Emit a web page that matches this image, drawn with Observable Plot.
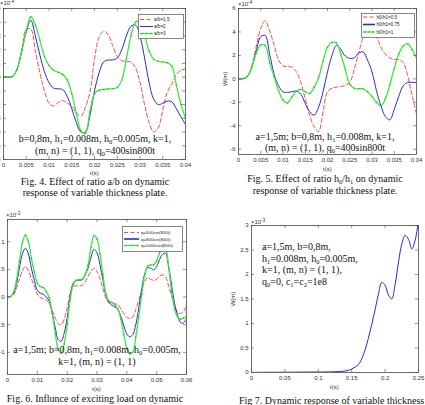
<!DOCTYPE html>
<html>
<head>
<meta charset="utf-8">
<script src="https://cdn.jsdelivr.net/npm/d3@7"></script>
<script src="https://cdn.jsdelivr.net/npm/@observablehq/plot@0.6"></script>
<style>
  body { margin: 0; background: #fff; }
  #page { position: relative; width: 425px; height: 405px; overflow: hidden; background: #fff; }
  .serif { position: absolute; font-family: "Liberation Serif", "Times New Roman", serif; font-size: 10px; color: #111; white-space: nowrap; }
  .center { text-align: center; }
  .small { position: absolute; font-family: "Liberation Sans", Arial, sans-serif; font-size: 6px; color: #333; white-space: nowrap; line-height: 1; }
  sub { font-size: 0.65em; vertical-align: -0.25em; line-height: 0; }
  sup { font-size: 0.75em; vertical-align: 0.35em; line-height: 0; }
</style>
</head>
<body>
<div id="page"></div>
<script>
// ---------- Fig. 4: effect of a/b (W in 1e-4 m, t in ms) ----------
const tAB = [0,1,2,3,4,5,6,7,8,9,10,11,12,13,14,15,16,17,18,19,20,21,22,23,24,25,26,27,28,29,30,31,32,33,34,35,36,37,38,39,40];
const ab15 = [0,0,0.05,0.6,1.9,3.5,3.5,1.9,0.3,-1.0,-1.9,-2.1,-1.85,-1.7,-1.9,-2.1,-2.6,-2.85,-2.2,-1.1,1.3,2.9,3.35,3.1,2.3,1.5,1.2,1.15,1.1,0.7,-0.4,-2.0,-3.3,-4.0,-3.7,-2.4,-1.1,-0.5,0.2,0.5,0.6];
const ab2  = [0,0,0.05,0.6,1.9,3.3,4.15,3.0,1.6,0.4,-0.4,-0.8,-0.85,-0.9,-1.4,-2.3,-3.3,-4.0,-4.0,-2.8,-1.0,0.3,1.1,1.25,1.25,1.4,2.0,3.0,3.7,3.8,3.0,1.4,-0.4,-1.6,-2.0,-1.9,-1.75,-1.8,-2.3,-2.9,-3.45];
const ab3  = [0,0,0.05,0.6,1.9,3.4,4.4,3.8,2.7,1.5,0.85,0.5,0.35,0.2,-0.2,-1.2,-2.6,-3.9,-4.1,-2.5,-1.2,-0.95,-0.9,-0.85,-0.85,-0.75,-0.2,1.3,3.0,4.0,4.1,3.1,1.9,1.3,1.15,1.1,1.05,0.8,-0.6,-2.0,-3.0];
const abLabels = ["a/b=1,5", "a/b=2", "a/b=3"];

// ---------- Fig. 5: effect of h0/h1 (W in 1e-4 m, t in ms) ----------
const tH = [0,1,2,3,4,5,6,7,8,9,10,11,12,13,14,15,16,17,18,19,20,21,22,23,24,25,26,27,28,29,30,31,32,33,34,35,36,37,38,39,40];
const h05  = [0,0.02,0.2,1.1,2.8,4.3,4.95,4.1,2.9,1.6,1.1,1.05,1.0,0.6,-0.3,-1.7,-3.1,-4.1,-4.5,-2.8,-1.1,-0.8,-0.7,-0.65,-0.55,-0.3,0.8,2.2,3.5,4.1,4.3,3.6,2.7,2.1,1.8,1.65,1.65,1.4,0.3,-1.4,-3.0];
const h075 = [0,0.02,0.2,1.0,2.4,3.6,3.7,2.1,0.4,-0.6,-1.1,-1.15,-1.1,-1.05,-1.3,-2.1,-2.8,-3.1,-2.4,-1.1,0.6,2.0,2.85,2.5,1.95,1.75,1.8,2.2,2.3,1.6,0.6,-1.0,-2.3,-3.2,-3.5,-2.6,-1.5,-0.6,-0.3,-0.3,-0.3];
const h1   = [0,0.02,0.2,1.0,2.2,2.9,2.85,1.4,0.2,-1.0,-1.8,-2.05,-1.55,-1.05,-0.9,-1.1,-1.25,-0.7,0.1,1.5,2.7,3.1,3.05,2.1,0.8,-0.45,-0.8,-0.85,-0.85,-1.1,-1.5,-2.0,-2.3,-1.7,-0.5,0.9,2.1,2.8,3.0,2.5,1.8];
const hLabels = ["h0/h1=0,5", "h0/h1=0,75", "h0/h1=1"];

// ---------- Fig. 6: exciting load (W in 1e-3 m, t in ms) ----------
const tQ = [0,1,2,3,4,5,6,7,8,9,10,11,12,13,14,15,16,17,18,19,20,21,22,23,24,25,26,27,28,29,30,31,32,33,34,35,36,37,38,39,40,41,42,43,44,45,46,47,48,49,50,51,52,53,54,55,56,57,58,59,60];
const q500  = [0,0.01,0.04,0.15,0.32,0.48,0.55,0.48,0.33,0.2,0.05,-0.01,-0.03,-0.06,-0.12,-0.24,-0.38,-0.48,-0.5,-0.4,-0.2,0.07,0.19,0.2,0.2,0.21,0.28,0.37,0.46,0.52,0.46,0.32,0.15,-0.02,-0.1,-0.11,-0.12,-0.14,-0.22,-0.3,-0.37,-0.39,-0.36,-0.22,-0.06,0.12,0.28,0.35,0.32,0.3,0.32,0.38,0.4,0.36,0.2,0.02,-0.15,-0.28,-0.3,-0.26,-0.17];
const q800  = [0,0.01,0.06,0.24,0.52,0.78,0.88,0.78,0.52,0.3,0.12,0.07,0.05,0.0,-0.08,-0.3,-0.55,-0.77,-0.8,-0.65,-0.38,0.0,0.25,0.3,0.3,0.31,0.4,0.52,0.72,0.86,0.8,0.58,0.3,0.03,-0.1,-0.15,-0.18,-0.22,-0.35,-0.52,-0.67,-0.72,-0.68,-0.5,-0.2,0.15,0.42,0.53,0.52,0.49,0.55,0.68,0.77,0.79,0.55,0.22,-0.12,-0.33,-0.46,-0.47,-0.39];
const q1000 = [0,0.01,0.08,0.3,0.65,0.98,1.12,1.0,0.7,0.45,0.25,0.19,0.17,0.1,-0.02,-0.3,-0.65,-0.95,-1.02,-0.85,-0.5,-0.05,0.22,0.3,0.31,0.32,0.4,0.58,0.9,1.11,1.05,0.78,0.4,0.05,-0.07,-0.1,-0.14,-0.22,-0.4,-0.68,-0.92,-1.02,-1.0,-0.72,-0.35,0.05,0.4,0.56,0.58,0.58,0.65,0.8,0.93,0.88,0.55,0.1,-0.22,-0.36,-0.4,-0.38,-0.36];
const qLabels = ["q=500sin(800t)", "q=800sin(800t)", "q=1000sin(800t)"];

// ---------- Fig. 7: q0 = 0, c1 = c2 = 1e8 (W in 1e-3 m, t in s) ----------
const tF = [0,0.005,0.01,0.015,0.02,0.025,0.03,0.035,0.04,0.045,0.05,0.055,0.06,0.065,0.07,0.075,0.08,0.085,0.09,0.095,0.1,0.105,0.11,0.115,0.12,0.125,0.13,0.135,0.14,0.145,0.15,0.155,0.16,0.165,0.17,0.175,0.18,0.185,0.19,0.195,0.2,0.205,0.21,0.215,0.22,0.225,0.23,0.235,0.24,0.245,0.25];
const wF = [0,0.002,0.003,0.004,0.004,0.005,0.005,0.005,0.006,0.006,0.006,0.007,0.007,0.007,0.008,0.008,0.008,0.009,0.009,0.01,0.01,0.01,0.011,0.012,0.014,0.016,0.019,0.023,0.03,0.045,0.07,0.11,0.16,0.28,0.46,0.7,0.98,1.28,1.6,1.84,1.78,1.58,1.5,1.8,2.25,2.62,2.8,2.72,2.52,2.7,3.1];

// tick values
const xt40 = [0,0.005,0.01,0.015,0.02,0.025,0.03,0.035,0.04];
const yt4a = [-6,-5,-4,-3,-2,-1,0,1,2,3,4,5];
const yt4b = [-6,-4,-2,0,2,4,6];
const xt60 = [0,0.01,0.02,0.03,0.04,0.05,0.06];
const yt6  = [-1,-0.5,0,0.5,1];
const xt25 = [0,0.05,0.1,0.15,0.2,0.25];
const yt7  = [0,0.5,1,1.5,2,2.5,3];

const RED = "#f04a4a", BLUE = "#2a2ad2", GREEN = "#3ee83e", GREEN_DOT = "#28bd28";
const AX = "#4a4a4a";

const page = document.getElementById("page");
function place(el, left, top) {
  el.style.position = "absolute";
  el.style.left = left + "px";
  el.style.top = top + "px";
  page.appendChild(el);
  return el;
}
function html(cls, content, left, top, extra) {
  const d = document.createElement("div");
  d.className = cls;
  d.innerHTML = content;
  if (extra) Object.assign(d.style, extra);
  return place(d, left, top);
}
const num = d => String(+(+d).toFixed(4));

function table(ts, ys, tScale) {
  return ts.map((t, i) => ({t: t * tScale, w: ys[i]}));
}

function panel(o) {
  const fw = o.frame.right - o.frame.left, fh = o.frame.bottom - o.frame.top;
  const ml = 40, mr = 6, mb = 30, mt = o.frame.top - o.top;
  const marks = [];
  o.series.forEach(s => {
    const data = table(o.t, s.values, o.tScale);
    marks.push(Plot.line(data, {x: "t", y: "w", stroke: s.color, strokeWidth: s.width, strokeDasharray: s.dash, curve: "catmull-rom", clip: true}));
    if (s.dots) marks.push(Plot.dot(data, {x: "t", y: "w", r: 0.75, fill: s.dots, clip: true}));
  });
  const chart = Plot.plot({
    width: ml + fw + mr, height: mt + fh + mb,
    marginLeft: ml, marginRight: mr, marginTop: mt, marginBottom: mb,
    x: {domain: o.xDomain},
    y: {domain: o.yDomain},
    style: {fontFamily: "Liberation Sans, Arial, sans-serif", fontSize: "6px", color: "#333", background: "transparent", overflow: "visible"},
    marks: [
      Plot.axisX({ticks: o.xTicks, tickSize: 0, tickPadding: 3, tickFormat: num, label: null}),
      Plot.axisY({ticks: o.yTicks, tickSize: 0, tickPadding: 3, tickFormat: num, label: null}),
      ...marks,
      Plot.tickX(o.xTicks, {x: d => d, insetTop: fh - 3, stroke: AX, strokeWidth: 0.6}),
      Plot.tickX(o.xTicks, {x: d => d, insetBottom: fh - 3, stroke: AX, strokeWidth: 0.6}),
      Plot.tickY(o.yTicks, {y: d => d, insetRight: fw - 3, stroke: AX, strokeWidth: 0.6}),
      Plot.tickY(o.yTicks, {y: d => d, insetLeft: fw - 3, stroke: AX, strokeWidth: 0.6}),
      Plot.frame({stroke: AX, strokeWidth: 0.8})
    ]
  });
  place(chart, o.frame.left - ml, o.top);
}

function legend(series, labels, box, rowY, sampleX, textX, fontSize) {
  const svg = d3.create("svg").attr("width", box.w).attr("height", box.h)
    .style("overflow", "visible");
  svg.append("rect").attr("x", 0.5).attr("y", 0.5).attr("width", box.w - 1).attr("height", box.h - 1)
    .attr("fill", "#fff").attr("stroke", "#555").attr("stroke-width", 0.7);
  series.forEach((s, i) => {
    const y = rowY[i];
    svg.append("line").attr("x1", sampleX[0]).attr("x2", sampleX[1]).attr("y1", y).attr("y2", y)
      .attr("stroke", s.color).attr("stroke-width", s.width).attr("stroke-dasharray", s.dash || null);
    if (s.dots) {
      [sampleX[0] + 2, (sampleX[0] + sampleX[1]) / 2, sampleX[1] - 2].forEach(x =>
        svg.append("circle").attr("cx", x).attr("cy", y).attr("r", 0.8).attr("fill", s.dots));
    }
    svg.append("text").attr("x", textX).attr("y", y).attr("dy", "0.35em")
      .attr("font-family", "Liberation Sans, Arial, sans-serif").attr("font-size", fontSize)
      .attr("fill", "#222").text(labels[i]);
  });
  place(svg.node(), box.x, box.y);
}

const style3 = [
  {color: RED, width: 1, dash: "4,2.5"},
  {color: BLUE, width: 1},
  {color: GREEN, width: 1.3, dots: GREEN_DOT}
];

// Fig. 4
panel({
  top: 0, frame: {left: 3, right: 185, top: 8, bottom: 159},
  t: tAB, tScale: 0.001, xDomain: [0, 0.04], yDomain: [-6, 5], xTicks: xt40, yTicks: yt4a,
  series: [ab15, ab2, ab3].map((v, i) => ({...style3[i], values: v}))
});
legend(style3, abLabels, {x: 138, y: 14, w: 46, h: 25}, [5.5, 12.5, 19.5], [2, 15], 16, "4.6px");
html("small", "×10<sup>-4</sup>", 0, 0);
html("small", "t(s)", 90, 170);

// Fig. 5
panel({
  top: 0, frame: {left: 238, right: 416, top: 8, bottom: 154},
  t: tH, tScale: 0.001, xDomain: [0, 0.04], yDomain: [-6.45, 6], xTicks: xt40, yTicks: yt4b,
  series: [h05, h075, h1].map((v, i) => ({...style3[i], values: v}))
});
legend(style3.map((s, i) => i === 1 ? {...s, width: 1.6} : s), hLabels, {x: 361, y: 13, w: 54, h: 25}, [4, 11.5, 19], [2, 14], 15.5, "4.6px");
html("small", "×10<sup>-4</sup>", 238, 1);
html("small", "t(s)", 323, 166);
html("small", "W(m)", 218, 76, {transform: "rotate(-90deg)", transformOrigin: "50% 50%"});

// Fig. 6
panel({
  top: 200, frame: {left: 7, right: 186, top: 219, bottom: 374},
  t: tQ, tScale: 0.001, xDomain: [0, 0.06], yDomain: [-1.4, 1.4], xTicks: xt60, yTicks: yt6,
  series: [q500, q800, q1000].map((v, i) => ({...style3[i], values: v}))
});
legend(style3.map((s, i) => i === 1 ? {...s, width: 1.6} : s), qLabels, {x: 122, y: 226, w: 61, h: 26}, [6.5, 13, 19.5], [2, 17], 19, "4.4px");
html("small", "×10<sup>-3</sup>", 6, 212);
html("small", "t(s)", 92, 386);

// Fig. 7
panel({
  top: 200, frame: {left: 251, right: 418, top: 225, bottom: 372},
  t: tF, tScale: 1, xDomain: [0, 0.25], yDomain: [0, 3], xTicks: xt25, yTicks: yt7,
  series: [{color: BLUE, width: 1, values: wF}]
});
html("small", "×10<sup>-3</sup>", 251, 219);
html("small", "t(s)", 330, 384);
html("small", "W(m)", 226, 296, {transform: "rotate(-90deg)", transformOrigin: "50% 50%"});

// annotations and captions
html("serif center", "b=0,8m, h<sub>1</sub>=0.008m, h<sub>0</sub>=0.005m, k=1,<br>(m, n) = (1, 1), q<sub>0</sub>=400sin800t",
  -5, 132.7, {width: "200px", lineHeight: "12.5px"});
html("serif center", "Fig. 4. Effect of ratio a/b on dynamic<br>response of variable thickness plate.",
  -5, 177.3, {width: "200px", lineHeight: "10.8px"});

html("serif center", "a=1,5m; b=0,8m, h<sub>1</sub>=0.008m, k=1,<br>(m, n) = (1, 1), q<sub>0</sub>=400sin800t",
  225, 130.5, {width: "200px", lineHeight: "11px"});
html("serif center", "Fig. 5. Effect of ratio h<sub>0</sub>/h<sub>1</sub> on dynamic<br>response of variable thickness plate.",
  225, 173, {width: "200px", lineHeight: "12px"});

html("serif center", "a=1,5m; b=0,8m, h<sub>1</sub>=0.008m, h<sub>0</sub>=0.005m,<br>k=1, (m, n) = (1, 1)",
  -3, 343.7, {width: "200px", lineHeight: "12.7px"});
html("serif center", "Fig. 6. Influnce of exciting load on dynamic",
  -5, 393.7, {width: "200px", lineHeight: "10.6px"});

html("serif", "a=1,5m, b=0,8m,<br>h<sub>1</sub>=0.008m, h<sub>0</sub>=0.005m,<br>k=1, (m, n) = (1, 1),<br>q<sub>0</sub>=0, c<sub>1</sub>=c<sub>2</sub>=1e8",
  262, 241, {lineHeight: "11.7px"});
html("serif", "Fig 7. Dynamic response of variable thickness plate",
  239, 395.7, {lineHeight: "10.6px"});
</script>
</body>
</html>
